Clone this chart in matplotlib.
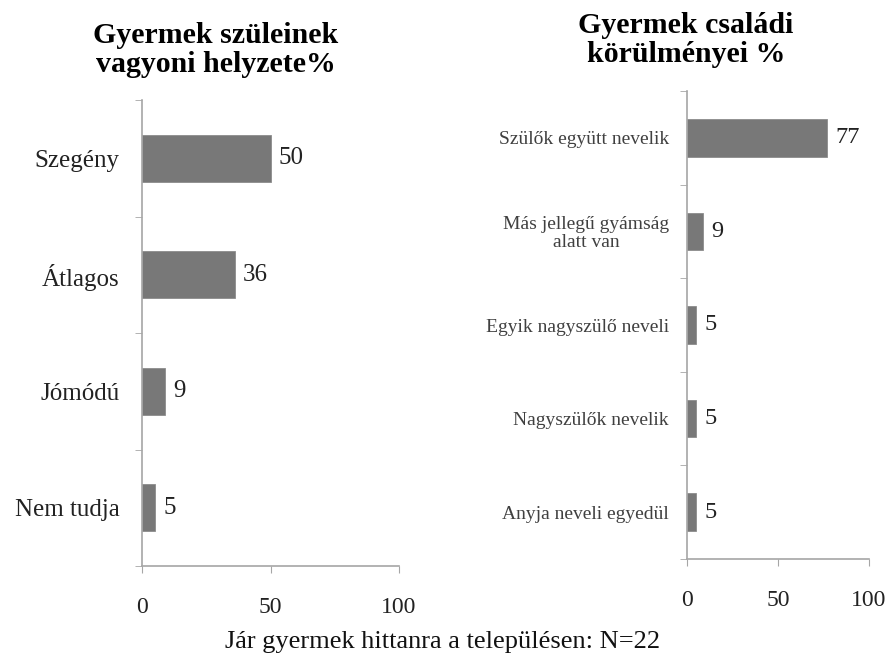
import matplotlib
matplotlib.use("Agg")
import matplotlib.pyplot as plt
import numpy as np

left_title = "Gyermek szüleinek\nvagyoni helyzete%"
left_cats = ["Szegény", "Átlagos", "Jómódú", "Nem tudja"]
left_vals = [50, 36, 9, 5]

right_title = "Gyermek családi\nkörülményei %"
right_cats = ["Szülők együtt nevelik", "Más jellegű gyámság\nalatt van",
              "Egyik nagyszülő neveli", "Nagyszülők nevelik", "Anyja neveli egyedül"]
right_vals = [77, 9, 5, 5, 5]

xticks = [0, 50, 100]
footer = "Jár gyermek hittanra a településen: N=22"

SERIF = "Liberation Serif"
BAR = "#787878"
AXC = "#a6a6a6"

fig = plt.figure(figsize=(8.9, 6.7), dpi=100)


def draw(ax, cats, vals, cat_fs, cat_color, val_fs, pad, tick_fs, xpad):
    n = len(cats)
    y = np.arange(n)
    ax.barh(y, vals, height=0.4, color=BAR, edgecolor="#8c8c8c", linewidth=0.6)
    ax.set_ylim(n - 0.5, -0.5)
    ax.set_xlim(0, 100)
    ax.set_yticks(y)
    ax.set_yticklabels(cats, fontsize=cat_fs, color=cat_color, family=SERIF,
                       multialignment="center", linespacing=1.05)
    ax.set_yticks(np.arange(n + 1) - 0.5, minor=True)
    ax.tick_params(axis="y", which="major", length=0, pad=pad)
    ax.tick_params(axis="y", which="minor", length=5, color=AXC, direction="out")
    ax.set_xticks(xticks)
    ax.set_xticklabels([str(t) for t in xticks], fontsize=tick_fs, family=SERIF,
                       color="#222222")
    ax.tick_params(axis="x", length=5, color=AXC, direction="out", pad=xpad)
    for s in ["top", "right"]:
        ax.spines[s].set_visible(False)
    for s in ["left", "bottom"]:
        ax.spines[s].set_color(AXC)
        ax.spines[s].set_linewidth(1.2)
    for yi, v in zip(y, vals):
        ax.annotate(str(v), (v, yi), xytext=(6, 0), textcoords="offset points",
                    va="center", ha="left", fontsize=val_fs, family=SERIF,
                    color="#222222")


ax1 = fig.add_axes([142 / 890, 1 - 566 / 670, 257 / 890, 466 / 670])
draw(ax1, left_cats, left_vals, 18, "#222222", 18, 16, 17, 17)

ax2 = fig.add_axes([687 / 890, 1 - 559 / 670, 182 / 890, 468 / 670])
draw(ax2, right_cats, right_vals, 14, "#404040", 17.5, 13, 17, 17)

fig.text(216 / 890, 1 - 50 / 670, left_title, ha="center", va="center",
         fontsize=21.5, fontweight="bold", family=SERIF, linespacing=1.1)
fig.text(686 / 890, 1 - 40 / 670, right_title, ha="center", va="center",
         fontsize=21.5, fontweight="bold", family=SERIF, linespacing=1.1)
fig.text(443 / 890, 1 - 642 / 670, footer, ha="center", va="center",
         fontsize=19, family=SERIF, color="#111111")

fig.savefig("out.png", dpi=100)
